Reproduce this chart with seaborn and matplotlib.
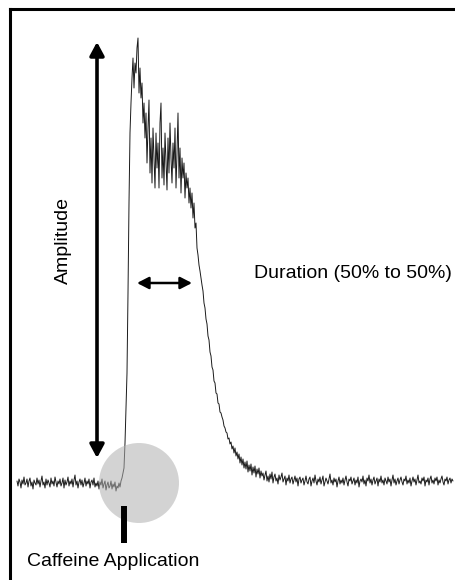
import numpy as np
import pandas as pd
import seaborn as sns
import matplotlib
matplotlib.use("Agg")
import matplotlib.pyplot as plt
from matplotlib.patches import FancyArrowPatch, Ellipse

# Calcium transient evoked by caffeine (dF/F0), sampled every 0.2 s from t = 1.5 s
t_start = 1.5
t_step = 0.2
pre_baseline = [
    0.02, -0.03, 0.04, 0.01, -0.05, 0.03, -0.01, 0.06, -0.02, 0.00,
    0.04, -0.04, 0.02, 0.05, -0.03, 0.01, -0.06, 0.03, 0.00, -0.02,
    0.05, -0.01, 0.03, -0.04, 0.02, 0.07, -0.02, 0.01, -0.05, 0.04,
    -0.02, 0.03, 0.00, -0.04, 0.05, -0.01, 0.02, -0.03, 0.06, 0.01,
    -0.04, 0.02, -0.01, 0.04, -0.03, 0.00, 0.05, -0.05, 0.03, -0.02,
    0.01, 0.06, -0.03, 0.02, -0.01, 0.04, -0.04, 0.03, 0.08, -0.02,
    0.02, -0.05, 0.01, 0.04, -0.02, 0.03, -0.04, 0.00, 0.05, -0.03,
    0.02, -0.01, 0.04, -0.05, 0.01, 0.03, -0.02, 0.05, -0.04, 0.00,
    -0.03, 0.02, -0.06, 0.01, -0.02, 0.04, -0.05, -0.01, 0.02, -0.07,
    -0.02, 0.01, -0.05, -0.03, 0.02, -0.06, -0.01, -0.04, 0.01, -0.08,
    -0.03, -0.05, 0.00, -0.04, 0.02,
]
transient = [
    0.05, 0.10, 0.15, 0.40, 0.75, 1.10, 1.90, 2.80, 3.50, 3.80,
    4.05, 4.25, 3.95, 4.20, 4.10, 4.35, 4.45, 3.90, 4.15, 3.85,
    4.00, 3.60, 3.80, 3.45, 3.70, 3.20, 3.55, 3.83, 3.10, 3.45,
    3.00, 3.55, 3.25, 2.95, 3.50, 3.15, 3.40, 2.95, 3.60, 3.80,
    3.05, 3.35, 2.98, 3.50, 3.20, 2.93, 3.45, 3.10, 3.60, 3.25,
    3.00, 3.40, 3.15, 3.55, 2.95, 3.30, 3.70, 3.05, 3.35, 2.90,
    3.25, 3.05, 3.20, 2.85, 3.10, 2.95, 3.05, 2.80, 2.95, 2.75,
    2.90, 2.65, 2.80, 2.55, 2.60, 2.35, 2.28, 2.18, 2.12, 2.05,
    1.98, 1.92, 1.80, 1.75, 1.64, 1.59, 1.47, 1.43, 1.31, 1.27,
    1.16, 1.13, 1.02, 1.00, 0.90, 0.89, 0.80, 0.79, 0.71, 0.70,
    0.66, 0.63, 0.57, 0.55, 0.51, 0.50, 0.44, 0.45, 0.39, 0.41,
    0.34, 0.37, 0.30, 0.35, 0.27, 0.31, 0.24, 0.29, 0.20, 0.26,
    0.18, 0.24, 0.15, 0.21, 0.14, 0.22, 0.11, 0.18, 0.12, 0.19,
    0.08, 0.16, 0.10, 0.17, 0.06, 0.14, 0.09, 0.15, 0.05, 0.12,
    0.07,
]
post_baseline = [
    0.10, 0.03, 0.08, 0.12, 0.02, 0.07, 0.01, 0.09, 0.04, 0.11,
    0.00, 0.06, 0.09, 0.02, 0.05, -0.01, 0.08, 0.03, 0.06, 0.10,
    0.01, 0.04, 0.07, -0.02, 0.05, 0.02, 0.08, 0.00, 0.04, 0.06,
    -0.01, 0.03, 0.07, 0.01, 0.05, -0.03, 0.04, 0.06, 0.00, 0.03,
    0.05, -0.02, 0.02, 0.07, 0.01, -0.01, 0.04, 0.06, -0.03, 0.02,
    0.05, 0.00, 0.08, 0.02, -0.02, 0.04, 0.01, 0.06, -0.01, 0.03,
    0.07, -0.03, 0.01, 0.05, 0.02, -0.01, 0.04, 0.09, 0.00, 0.03,
    -0.02, 0.05, 0.01, 0.04, -0.04, 0.02, 0.06, -0.01, 0.03, 0.00,
    0.05, -0.02, 0.03, 0.07, 0.01, -0.03, 0.04, 0.02, 0.06, -0.01,
    0.02, 0.05, -0.02, 0.03, 0.00, 0.06, -0.04, 0.02, 0.04, 0.01,
    0.07, -0.01, 0.03, -0.03, 0.05, 0.02, 0.08, 0.00, 0.04, -0.02,
    0.03, 0.06, -0.01, 0.02, 0.05, -0.03, 0.04, 0.01, 0.07, 0.00,
    0.03, -0.02, 0.05, 0.02, -0.01, 0.06, 0.01, 0.04, -0.03, 0.03,
    0.08, 0.00, 0.04, -0.02, 0.02, 0.05, -0.01, 0.03, 0.06, 0.01,
    -0.02, 0.04, 0.02, 0.07, -0.01, 0.03, 0.00, 0.05, -0.03, 0.02,
    0.06, 0.01, 0.04, -0.02, 0.03, 0.08, 0.00, 0.02, -0.01, 0.05,
    0.02, 0.06, -0.03, 0.03, 0.01, 0.05, -0.02, 0.04, 0.07, 0.00,
    0.03, -0.01, 0.05, 0.02, 0.06, -0.02, 0.03, 0.00, 0.04, 0.07,
    0.01, -0.02, 0.04, 0.02, 0.06, -0.01, 0.03, 0.05, 0.00, 0.04,
    0.02,
]

signal = pre_baseline + transient + post_baseline
time = t_start + t_step * np.arange(len(signal))
trace = pd.DataFrame({"time": time, "dff": signal})

# Annotation geometry (data units)
caffeine_time = 22.9
amp_x, amp_low, amp_high = 17.5, 0.25, 4.41
dur_y, dur_start, dur_end = 2.0, 25.5, 36.5

sns.set_theme(style="white")
plt.rcParams["font.family"] = ["Liberation Sans", "DejaVu Sans"]

fig = plt.figure(figsize=(4.55, 5.8), dpi=100)
ax = fig.add_axes([9.5 / 455, 0, 1 - 9.5 / 455, 1 - 9 / 580])

sns.lineplot(data=trace, x="time", y="dff", ax=ax, color="#1a1a1a",
             linewidth=0.7, estimator=None, sort=False, zorder=2)

ax.set_xlim(0, 89.1)
ax.set_ylim(-0.97, 4.74)
ax.set_xticks([])
ax.set_yticks([])
ax.set_xlabel("")
ax.set_ylabel("")
for side in ("right", "bottom"):
    ax.spines[side].set_visible(False)
for side in ("top", "left"):
    ax.spines[side].set_visible(True)
    ax.spines[side].set_color("black")
    ax.spines[side].set_linewidth(2.2)

# Shaded region marking the onset
onset = Ellipse((25.9, 0.0), width=16.0, height=0.80, facecolor="#b0b0b0",
                edgecolor="none", alpha=0.55, zorder=3)
ax.add_patch(onset)

# Caffeine application marker
ax.plot([caffeine_time, caffeine_time], [-0.23, -0.60], color="black",
        linewidth=4.3, solid_capstyle="butt", zorder=4)

# Amplitude arrow
ax.add_patch(FancyArrowPatch((amp_x, amp_low), (amp_x, amp_high),
                             arrowstyle="<|-|>,head_length=8,head_width=4.3",
                             mutation_scale=1, linewidth=2.6, color="black",
                             shrinkA=0, shrinkB=0, zorder=4))
# Duration arrow
ax.add_patch(FancyArrowPatch((dur_start, dur_y), (dur_end, dur_y),
                             arrowstyle="<|-|>,head_length=7,head_width=3.6",
                             mutation_scale=1, linewidth=1.8, color="black",
                             shrinkA=0, shrinkB=0, zorder=4))

ax.text(10.7, 2.42, "Amplitude", rotation=90, ha="center", va="center",
        fontsize=14, color="black")
ax.text(48.9, 2.09, "Duration (50% to 50%)", ha="left", va="center",
        fontsize=14, color="black")
ax.text(3.5, -0.79, "Caffeine Application", ha="left", va="center",
        fontsize=14, color="black")

fig.savefig("out.png", dpi=100, facecolor="white")
